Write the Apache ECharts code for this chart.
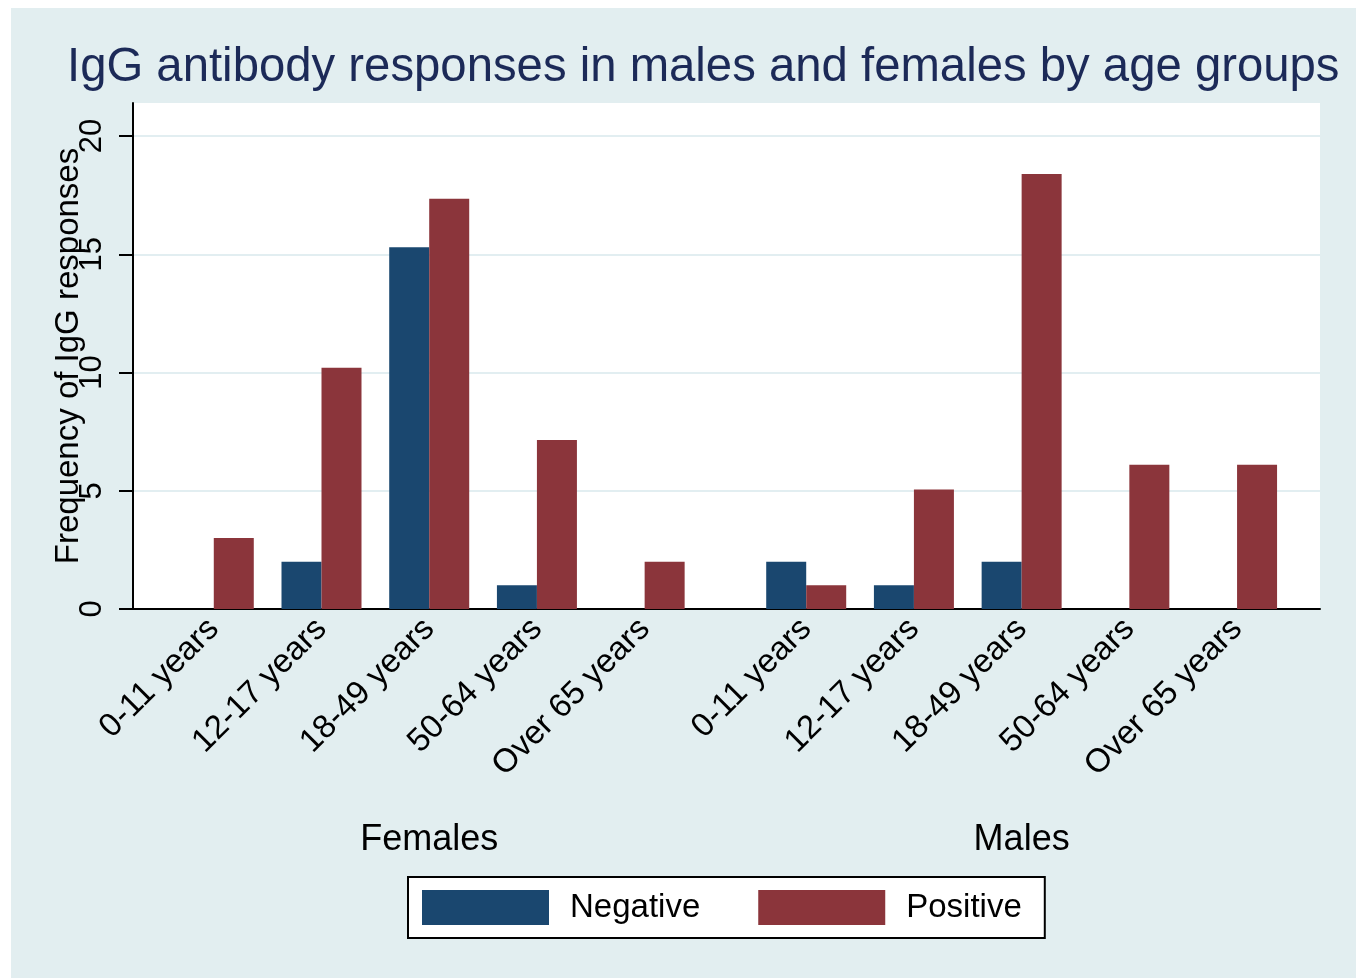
<!DOCTYPE html>
<html>
<head>
<meta charset="utf-8">
<script src="https://cdn.jsdelivr.net/npm/echarts@6/dist/echarts.min.js"></script>
<style>
  html, body { margin: 0; padding: 0; background: #ffffff; }
  #chart { position: absolute; left: 11px; top: 8px; width: 1345px; height: 970px; }
</style>
</head>
<body>
<div id="chart"></div>
<script>
// ---- Data ----
const titleText = 'IgG antibody responses in males and females by age groups';
const yTitle = 'Frequency of IgG responses';
const groups = ['Females', 'Males'];
const ageGroups = ['0-11 years', '12-17 years', '18-49 years', '50-64 years', 'Over 65 years'];
const seriesNames = ['Negative', 'Positive'];
const femalesNegative = [0, 2, 15.3, 1, 0];
const femalesPositive = [3, 10.2, 17.35, 7.15, 2];
const malesNegative = [2, 1, 2, 0, 0];
const malesPositive = [1, 5.05, 18.4, 6.1, 6.1];
const yTicks = [0, 5, 10, 15, 20];

// ---- Build ----
const FONT = "'Liberation Sans', Arial, Helvetica, sans-serif";
const groupGap = 0.5;
const slot = (g, i) => g * (ageGroups.length + groupGap) + i;
const positions = [];
const labelMap = {};
const groupCenters = [];
const groupMap = {};
groups.forEach((g, gi) => {
  ageGroups.forEach((a, i) => {
    const p = slot(gi, i);
    positions.push(p);
    labelMap[p.toFixed(2)] = a;
  });
  const c = slot(gi, (ageGroups.length - 1) / 2);
  groupCenters.push(c);
  groupMap[c.toFixed(2)] = g;
});
const negAll = femalesNegative.concat(malesNegative);
const posAll = femalesPositive.concat(malesPositive);
const negData = positions.map((p, k) => [p, negAll[k]]);
const posData = positions.map((p, k) => [p, posAll[k]]);
const xMin = positions[0] - 0.75;
const xMax = positions[positions.length - 1] + 0.77;

const chart = echarts.init(document.getElementById('chart'));
chart.setOption({
  backgroundColor: '#e2eef0',
  animation: false,
  textStyle: { fontFamily: FONT },
  title: {
    text: titleText,
    left: 51,
    top: 31,
    textStyle: { fontFamily: FONT, fontSize: 47.3, fontWeight: 'normal', color: '#1c2a58' }
  },
  legend: {
    left: 397,
    top: 869,
    orient: 'horizontal',
    icon: 'rect',
    itemWidth: 127,
    itemHeight: 35,
    itemGap: 58,
    padding: [13, 23, 13, 14],
    backgroundColor: '#ffffff',
    borderColor: '#000000',
    borderWidth: 2,
    borderRadius: 0,
    data: seriesNames,
    textStyle: { fontFamily: FONT, fontSize: 33, color: '#000000', padding: [0, 0, 0, 16] }
  },
  grid: {
    left: 122, right: 36, top: 95, bottom: 369,
    show: true, backgroundColor: '#ffffff', borderWidth: 0
  },
  xAxis: [
    {
      type: 'value',
      min: xMin, max: xMax,
      axisLine: { show: true, onZero: false, lineStyle: { color: '#000000', width: 2 } },
      axisTick: { show: false },
      splitLine: { show: false },
      axisLabel: {
        customValues: positions,
        rotate: 45,
        margin: 15,
        fontFamily: FONT,
        fontSize: 33,
        color: '#000000',
        formatter: (v) => labelMap[Number(v).toFixed(2)] || ''
      }
    },
    {
      type: 'value',
      position: 'bottom',
      offset: 205,
      min: xMin, max: xMax,
      axisLine: { show: false, onZero: false },
      axisTick: { show: false },
      splitLine: { show: false },
      axisLabel: {
        customValues: groupCenters,
        margin: 8,
        fontFamily: FONT,
        fontSize: 36,
        color: '#000000',
        formatter: (v) => groupMap[Number(v).toFixed(2)] || ''
      }
    }
  ],
  yAxis: {
    type: 'value',
    min: 0, max: 21.4, interval: 5,
    name: yTitle,
    nameLocation: 'middle',
    nameRotate: 90,
    nameGap: 48,
    nameMoveOverlap: false,
    nameTextStyle: { fontFamily: FONT, fontSize: 33, color: '#000000' },
    axisLine: { show: true, onZero: false, lineStyle: { color: '#000000', width: 2 } },
    axisTick: { show: true, length: 14, customValues: yTicks, lineStyle: { color: '#000000', width: 2 } },
    splitLine: { show: true, lineStyle: { color: '#e2eef1', width: 2 } },
    axisLabel: {
      customValues: yTicks,
      rotate: 90,
      margin: 25,
      fontFamily: FONT,
      fontSize: 31,
      color: '#000000'
    }
  },
  series: [
    {
      name: seriesNames[0], type: 'bar', xAxisIndex: 0,
      data: negData, barWidth: 40, barGap: '0%',
      itemStyle: { color: '#1a476f' }
    },
    {
      name: seriesNames[1], type: 'bar', xAxisIndex: 0,
      data: posData, barWidth: 40, barGap: '0%',
      itemStyle: { color: '#8b353b' }
    }
  ]
});
</script>
</body>
</html>
